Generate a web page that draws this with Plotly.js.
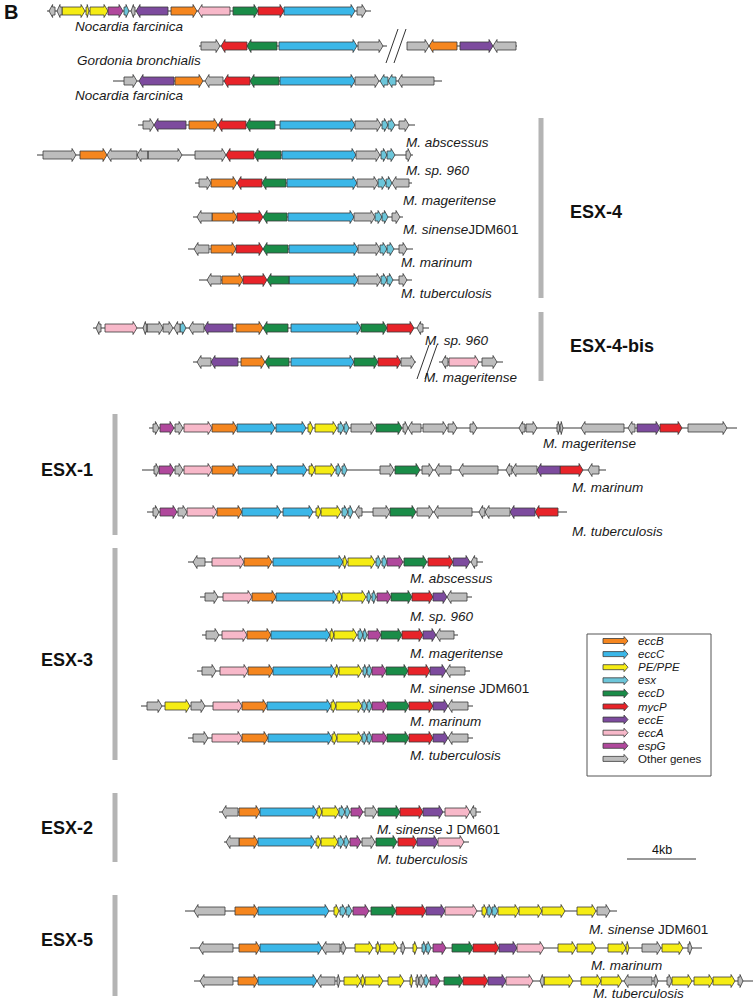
<!DOCTYPE html>
<html><head><meta charset="utf-8">
<script src="https://cdn.plot.ly/plotly-3.0.1.min.js"></script>
<style>body{margin:0;background:#fff}#chart{width:754px;height:1000px}</style>
</head><body><div id="chart"></div>
<script>
// ---------- legend / gene categories ----------
const typeCodes  = ['B','C','P','x','D','M','E','A','G','o'];
const typeNames  = ['eccB','eccC','PE/PPE','esx','eccD','mycP','eccE','eccA','espG','Other genes'];
const typeColors = ['#F5861F','#3BB7E8','#F5EC14','#6CC6DA','#1A8C48','#E82329','#7D4B9E','#F7B8C9','#B0489C','#BDBDBD'];

// ---------- gene maps: [start, end, strand, type] (schematic units, 4 kb = 69 units) ----------
const nocardia1 = [[49,55,-1,'o'],[57,62,-1,'o'],[62,85,1,'P'],[86,89,1,'P'],[90,108,1,'P'],[108,123,1,'G'],[124,129,1,'x'],[131,135,-1,'o'],[136,168,-1,'E'],[171,197,1,'B'],[198,230,-1,'A'],[233,258,1,'D'],[258,284,1,'M'],[284,355,1,'C'],[357,366,1,'o']];
const gordonia = [[201,220,1,'o'],[221,247,-1,'M'],[247,277,-1,'D'],[279,357,1,'C'],[358,383,1,'o'],[407,429,1,'o'],[429,457,-1,'B'],[460,493,1,'E'],[493,516,-1,'o']];
const nocardia2 = [[124,137,1,'o'],[139,174,-1,'E'],[175,203,1,'B'],[205,223,-1,'o'],[224,250,-1,'M'],[250,279,-1,'D'],[280,355,1,'C'],[355,379,1,'o'],[380,388,-1,'x'],[388,396,-1,'x'],[398,434,-1,'o']];

const esx4_abs = [[143,154,1,'o'],[154,186,-1,'E'],[189,218,1,'B'],[218,246,-1,'M'],[246,275,-1,'D'],[280,355,1,'C'],[355,381,1,'o'],[382,388,1,'x'],[388,395,1,'x'],[399,409,1,'o']];
const esx4_sp960 = [[43,76,1,'o'],[80,107,1,'B'],[107,137,-1,'o'],[137,148,-1,'o'],[148,182,1,'o'],[195,226,1,'o'],[226,254,-1,'M'],[254,281,-1,'D'],[282,356,1,'C'],[356,380,1,'o'],[381,387,1,'x'],[387,395,1,'x'],[406,411,1,'o']];
const esx4_mag = [[199,211,1,'o'],[211,237,1,'B'],[237,262,-1,'M'],[262,286,-1,'D'],[287,357,1,'C'],[357,378,1,'o'],[378,386,1,'x'],[386,392,1,'x'],[392,409,-1,'o']];
const esx4_sin = [[197,212,-1,'o'],[212,237,1,'B'],[237,263,1,'M'],[263,287,-1,'D'],[288,354,1,'C'],[354,375,1,'o'],[375,382,1,'x'],[382,388,1,'x'],[392,400,1,'o']];
const esx4_mar = [[194,209,-1,'o'],[211,236,1,'B'],[236,263,1,'M'],[263,288,-1,'D'],[289,358,1,'C'],[358,380,1,'o'],[380,387,1,'x'],[387,394,1,'x'],[399,407,1,'o']];
const esx4_tb = [[207,221,-1,'o'],[222,243,1,'B'],[243,267,1,'M'],[267,289,-1,'D'],[289,358,1,'C'],[358,381,1,'o'],[381,387,1,'x'],[387,393,1,'x'],[399,407,1,'o']];

const esx4b_sp960 = [[96,101,-1,'o'],[105,137,1,'A'],[143,147,-1,'o'],[147,163,1,'o'],[163,173,1,'o'],[174,180,-1,'o'],[180,186,1,'x'],[189,204,-1,'o'],[204,233,-1,'E'],[236,263,1,'B'],[263,288,-1,'D'],[291,361,1,'C'],[361,387,1,'D'],[387,414,1,'M'],[417,423,-1,'o']];
const esx4b_mag = [[197,211,-1,'o'],[211,238,-1,'E'],[241,265,1,'B'],[265,289,-1,'D'],[291,354,1,'C'],[354,378,1,'D'],[378,401,1,'M'],[401,415,1,'o'],[442,448,-1,'o'],[449,479,1,'A'],[482,497,1,'o']];

const esx1_mag = [[153,159,1,'o'],[160,174,1,'G'],[175,183,1,'o'],[184,212,1,'A'],[212,237,1,'B'],[237,275,1,'C'],[276,306,1,'C'],[308,313,1,'P'],[315,337,1,'P'],[338,344,1,'x'],[344,349,1,'x'],[351,375,1,'o'],[376,402,1,'D'],[403,408,1,'o'],[408,421,-1,'o'],[423,447,1,'o'],[448,457,1,'o'],[470,477,1,'o'],[519,525,-1,'o'],[526,537,1,'o'],[557,560,1,'o'],[560,563,1,'o'],[581,624,-1,'o'],[628,635,-1,'o'],[637,660,1,'E'],[660,682,1,'M'],[688,727,1,'o']];
const esx1_mar = [[154,159,1,'o'],[159,174,1,'G'],[175,183,1,'o'],[184,212,1,'A'],[212,237,1,'B'],[238,275,1,'C'],[277,307,1,'C'],[309,315,1,'P'],[315,335,1,'P'],[336,341,1,'x'],[342,347,1,'x'],[380,394,1,'o'],[395,420,1,'D'],[422,433,1,'o'],[435,451,-1,'o'],[459,498,-1,'o'],[506,512,-1,'o'],[512,537,-1,'o'],[537,560,-1,'E'],[560,583,1,'M'],[588,599,-1,'o']];
const esx1_tb = [[153,159,1,'o'],[160,177,1,'G'],[178,187,1,'o'],[187,217,1,'A'],[217,242,1,'B'],[242,281,1,'C'],[283,313,1,'C'],[316,321,1,'P'],[321,341,1,'P'],[342,348,1,'x'],[348,353,1,'x'],[355,362,-1,'o'],[373,390,1,'o'],[390,416,1,'D'],[417,433,1,'o'],[434,472,-1,'o'],[479,485,-1,'o'],[485,510,-1,'o'],[510,535,-1,'E'],[535,558,-1,'M']];

const esx3_abs = [[193,205,-1,'o'],[212,244,1,'A'],[244,272,1,'B'],[273,343,1,'C'],[343,347,1,'P'],[348,375,1,'P'],[376,381,1,'x'],[382,387,1,'x'],[387,403,1,'G'],[404,427,1,'D'],[428,453,1,'M'],[453,470,1,'E'],[471,477,-1,'o']];
const esx3_sp960 = [[205,218,1,'o'],[223,252,1,'A'],[252,276,1,'B'],[276,337,1,'C'],[337,342,1,'P'],[342,366,1,'P'],[367,371,1,'x'],[372,376,1,'x'],[377,391,1,'G'],[391,412,1,'D'],[412,433,1,'M'],[433,447,1,'E'],[447,467,-1,'o']];
const esx3_mag = [[206,219,1,'o'],[222,247,1,'A'],[247,271,1,'B'],[271,330,1,'C'],[330,334,1,'P'],[334,357,1,'P'],[358,363,1,'x'],[363,367,1,'x'],[368,381,1,'G'],[381,402,1,'D'],[402,423,1,'M'],[423,436,1,'E'],[436,454,-1,'o']];
const esx3_sin = [[202,216,1,'o'],[220,248,1,'A'],[248,273,1,'B'],[273,335,1,'C'],[335,339,1,'P'],[339,362,1,'P'],[363,367,1,'x'],[367,372,1,'x'],[372,386,1,'G'],[386,408,1,'D'],[408,430,1,'M'],[430,446,1,'E'],[446,465,-1,'o']];
const esx3_mar = [[147,162,1,'o'],[165,190,1,'P'],[191,205,1,'o'],[213,242,1,'A'],[242,267,1,'B'],[267,331,1,'C'],[331,336,1,'P'],[336,362,1,'P'],[362,367,1,'x'],[367,372,1,'x'],[372,387,1,'G'],[387,409,1,'D'],[409,433,1,'M'],[433,448,1,'E'],[448,468,-1,'o']];
const esx3_tb = [[193,208,1,'o'],[212,242,1,'A'],[242,268,1,'B'],[268,332,1,'C'],[332,337,1,'P'],[337,362,1,'P'],[362,367,1,'x'],[367,372,1,'x'],[372,387,1,'G'],[387,409,1,'D'],[409,433,1,'M'],[433,448,1,'E'],[448,468,-1,'o']];

const esx2_sin = [[222,238,-1,'o'],[239,260,1,'B'],[260,317,1,'C'],[317,322,1,'P'],[322,339,1,'P'],[339,345,1,'x'],[345,350,1,'x'],[351,363,1,'G'],[365,377,1,'o'],[378,400,1,'D'],[400,423,1,'M'],[423,443,1,'E'],[445,470,1,'A'],[470,476,-1,'o']];
const esx2_tb = [[226,239,-1,'o'],[239,258,1,'B'],[258,315,1,'C'],[316,321,1,'P'],[321,338,1,'P'],[338,344,1,'x'],[344,349,1,'x'],[350,361,1,'G'],[362,375,1,'o'],[376,397,1,'D'],[398,417,1,'M'],[417,438,1,'E'],[438,464,1,'A']];

const esx5_sin = [[194,225,-1,'o'],[235,258,1,'B'],[258,329,1,'C'],[334,339,1,'P'],[340,346,1,'x'],[346,352,1,'x'],[353,369,1,'G'],[371,396,1,'D'],[396,426,1,'M'],[426,445,1,'E'],[445,477,1,'A'],[482,487,1,'P'],[487,492,1,'x'],[492,498,1,'x'],[498,519,1,'P'],[519,542,1,'P'],[542,565,1,'P'],[577,596,1,'P'],[597,610,1,'o']];
const esx5_mar = [[199,233,-1,'o'],[239,260,1,'B'],[260,322,1,'C'],[322,340,-1,'o'],[341,346,1,'o'],[355,373,1,'P'],[376,380,1,'P'],[380,398,1,'P'],[401,405,1,'o'],[413,417,1,'P'],[422,426,1,'x'],[426,431,1,'x'],[433,446,1,'G'],[452,473,1,'D'],[473,499,1,'M'],[499,517,1,'E'],[517,544,1,'A'],[558,576,1,'P'],[577,596,1,'P'],[608,626,1,'P'],[626,629,1,'P'],[642,661,1,'o'],[662,683,1,'P'],[688,692,1,'o']];
const esx5_tb = [[200,233,-1,'o'],[238,258,1,'B'],[258,317,1,'C'],[317,335,-1,'o'],[337,340,1,'o'],[344,361,1,'P'],[361,365,1,'P'],[365,383,1,'P'],[388,404,1,'P'],[410,413,1,'P'],[416,419,1,'o'],[419,424,1,'o'],[424,429,1,'x'],[430,440,1,'G'],[444,463,1,'D'],[463,488,1,'M'],[488,506,1,'E'],[506,533,1,'A'],[540,544,-1,'o'],[544,573,1,'P'],[581,601,1,'P'],[601,622,1,'P'],[624,652,-1,'o'],[654,658,1,'o'],[667,672,1,'o'],[672,692,1,'P'],[694,713,1,'P'],[713,735,1,'P'],[738,743,1,'o']];

// ---------- row table: genes, species label, row position, backbone extent ----------
const rows = [
  {genes:nocardia1, label:'<i>Nocardia farcinica</i>', y:11, bb:[[47,371]], lx:73, ly:26},
  {genes:gordonia, label:'<i>Gordonia bronchialis</i>', y:46, bb:[[199,387],[407,517]], lx:75, ly:60, brk:[396]},
  {genes:nocardia2, label:'<i>Nocardia farcinica</i>', y:81, bb:[[113,442]], lx:73, ly:95},
  {genes:esx4_abs, label:'<i>M. abscessus</i>', y:125, bb:[[138,415]], lx:404, ly:142},
  {genes:esx4_sp960, label:'<i>M. sp. 960</i>', y:155, bb:[[37,413]], lx:404, ly:170},
  {genes:esx4_mag, label:'<i>M. mageritense</i>', y:183, bb:[[195,412]], lx:401, ly:200},
  {genes:esx4_sin, label:'<i>M. sinense</i>JDM601', y:217, bb:[[193,403]], lx:401, ly:229},
  {genes:esx4_mar, label:'<i>M. marinum</i>', y:249, bb:[[188,413]], lx:399, ly:262},
  {genes:esx4_tb, label:'<i>M. tuberculosis</i>', y:280, bb:[[199,412]], lx:399, ly:293},
  {genes:esx4b_sp960, label:'<i>M. sp. 960</i>', y:328, bb:[[93,429]], lx:423, ly:340},
  {genes:esx4b_mag, label:'<i>M. mageritense</i>', y:362, bb:[[193,416],[439,503]], lx:422, ly:377, brk:[427]},
  {genes:esx1_mag, label:'<i>M. mageritense</i>', y:428, bb:[[149,737]], lx:541, ly:443},
  {genes:esx1_mar, label:'<i>M. marinum</i>', y:470, bb:[[142,606]], lx:570, ly:487},
  {genes:esx1_tb, label:'<i>M. tuberculosis</i>', y:512, bb:[[147,567]], lx:570, ly:531},
  {genes:esx3_abs, label:'<i>M. abscessus</i>', y:562, bb:[[188,483]], lx:408, ly:578},
  {genes:esx3_sp960, label:'<i>M. sp. 960</i>', y:597, bb:[[200,472]], lx:408, ly:616},
  {genes:esx3_mag, label:'<i>M. mageritense</i>', y:635, bb:[[202,458]], lx:408, ly:653},
  {genes:esx3_sin, label:'<i>M. sinense</i> JDM601', y:671, bb:[[197,470]], lx:408, ly:688},
  {genes:esx3_mar, label:'<i>M. marinum</i>', y:706, bb:[[141,473]], lx:408, ly:721},
  {genes:esx3_tb, label:'<i>M. tuberculosis</i>', y:738, bb:[[188,473]], lx:408, ly:755},
  {genes:esx2_sin, label:'<i>M. sinense</i> J DM601', y:812, bb:[[219,481]], lx:375, ly:829},
  {genes:esx2_tb, label:'<i>M. tuberculosis</i>', y:842, bb:[[224,469]], lx:375, ly:859},
  {genes:esx5_sin, label:'<i>M. sinense</i> JDM601', y:911, bb:[[185,617]], lx:587, ly:929},
  {genes:esx5_mar, label:'<i>M. marinum</i>', y:948, bb:[[190,702]], lx:589, ly:965},
  {genes:esx5_tb, label:'<i>M. tuberculosis</i>', y:981, bb:[[194,753]], lx:591, ly:993}
];

// ---------- system brackets ----------
const systems = [
  {name:'ESX-4', x:541, y0:118, y1:298, lx:568, ly:212},
  {name:'ESX-4-bis', x:541, y0:312, y1:381, lx:568, ly:346},
  {name:'ESX-1', x:115, y0:414, y1:535, lx:67, ly:470},
  {name:'ESX-3', x:115, y0:548, y1:760, lx:67, ly:660},
  {name:'ESX-2', x:115, y0:793, y1:862, lx:67, ly:828},
  {name:'ESX-5', x:115, y0:895, y1:996, lx:67, ly:940}
];

// ---------- drawing ----------
const H_BODY = 4, H_HEAD = 6.5, L_HEAD = 4;
function arrow(s, e, str, y, h, H, L) {
  const hl = Math.min(L, (e - s) * 0.6);
  if (str > 0) { const b = e - hl; return [[s,y-h],[b,y-h],[b,y-H],[e,y],[b,y+H],[b,y+h],[s,y+h],[s,y-h]]; }
  const b = s + hl; return [[e,y-h],[b,y-h],[b,y-H],[s,y],[b,y+H],[b,y+h],[e,y+h],[e,y-h]];
}
const polys = {}; typeCodes.forEach(c => polys[c] = {x:[], y:[]});
function addPoly(code, pts) { pts.forEach(p => { polys[code].x.push(p[0]); polys[code].y.push(p[1]); }); polys[code].x.push(null); polys[code].y.push(null); }

const FONT = 'Liberation Sans, Arial, sans-serif';
const bbx = [], bby = [];
const annotations = [];
const shapes = [];
rows.forEach(r => {
  r.bb.forEach(seg => { bbx.push(seg[0], seg[1], null); bby.push(r.y, r.y, null); });
  r.genes.forEach(g => addPoly(g[3], arrow(g[0], g[1], g[2], r.y, H_BODY, H_HEAD, L_HEAD)));
  annotations.push({x:r.lx, y:r.ly, text:r.label, showarrow:false, xanchor:'left', yanchor:'middle',
    font:{family:FONT, size:13.5, color:'#1a1a1a'}});
  (r.brk || []).forEach(bx => {
    [-4, 4].forEach(dx => shapes.push({type:'line', xref:'x', yref:'y', x0:bx+dx+6, y0:r.y-17, x1:bx+dx-6, y1:r.y+17, line:{color:'#333', width:1}}));
  });
});

systems.forEach(s => {
  shapes.push({type:'line', xref:'x', yref:'y', x0:s.x, x1:s.x, y0:s.y0, y1:s.y1, line:{color:'#B4B4B4', width:5}});
  annotations.push({x:s.lx, y:s.ly, text:'<b>'+s.name+'</b>', showarrow:false, xanchor: s.x > 300 ? 'left':'center', yanchor:'middle',
    font:{family:FONT, size:18, color:'#111'}});
});

// legend box
const LEG = {x0:587, x1:711, y0:634, y1:776, ax0:603, ax1:628, tx:636, ty0:641, dy:13.1};
shapes.push({type:'rect', xref:'x', yref:'y', x0:LEG.x0, x1:LEG.x1, y0:LEG.y0, y1:LEG.y1, line:{color:'#555', width:1}, fillcolor:'rgba(0,0,0,0)'});
typeCodes.forEach((c, i) => {
  const yy = LEG.ty0 + i * LEG.dy;
  addPoly(c, arrow(LEG.ax0, LEG.ax1, 1, yy, 2.5, 4.5, 4));
  annotations.push({x:LEG.tx, y:yy, text: c === 'o' ? typeNames[i] : '<i>'+typeNames[i]+'</i>', showarrow:false, xanchor:'left', yanchor:'middle',
    font:{family:FONT, size:11.5, color:'#1a1a1a'}});
});

// scale bar
const scaleKb = 4, unitsPerKb = 69/4;
const sb = {x0:627, y:859};
shapes.push({type:'line', xref:'x', yref:'y', x0:sb.x0, x1:sb.x0 + scaleKb*unitsPerKb, y0:sb.y, y1:sb.y, line:{color:'#333', width:1}});
annotations.push({x:sb.x0 + scaleKb*unitsPerKb/2, y:sb.y-9, text:scaleKb+'kb', showarrow:false, xanchor:'center', yanchor:'middle',
  font:{family:FONT, size:12.5, color:'#111'}});

// panel letter
annotations.push({x:2, y:12, text:'<b>B</b>', showarrow:false, xanchor:'left', yanchor:'middle',
  font:{family:FONT, size:20, color:'#111'}});

const traces = [{x:bbx, y:bby, mode:'lines', line:{color:'#3a3a3a', width:1}, hoverinfo:'skip', showlegend:false}];
typeCodes.forEach((c, i) => traces.push({x:polys[c].x, y:polys[c].y, mode:'lines', fill:'toself', fillcolor:typeColors[i],
  line:{color:'#3a3a3a', width:0.8}, name:typeNames[i], hoverinfo:'skip', showlegend:false}));

Plotly.newPlot('chart', traces, {
  width:754, height:1000, margin:{l:0, r:0, t:0, b:0}, paper_bgcolor:'#fff', plot_bgcolor:'#fff',
  xaxis:{range:[0,754], visible:false, fixedrange:true},
  yaxis:{range:[1000,0], visible:false, fixedrange:true},
  shapes:shapes, annotations:annotations, showlegend:false
}, {displayModeBar:false, staticPlot:true});
</script></body></html>
